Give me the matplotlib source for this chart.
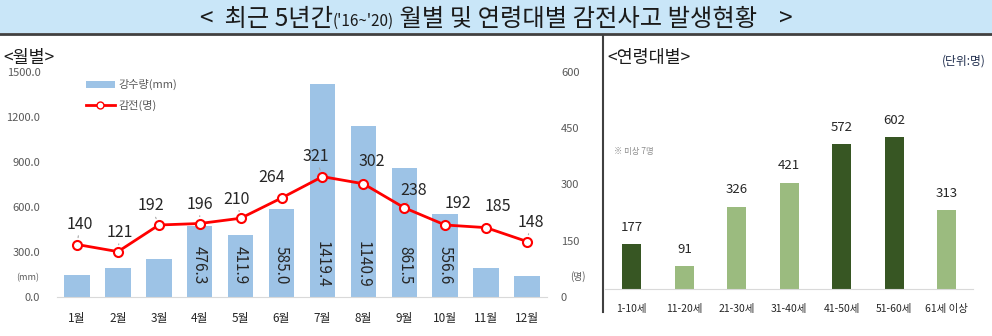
import matplotlib
matplotlib.use("Agg")
import matplotlib.pyplot as plt
from matplotlib.patches import Patch, Rectangle
from matplotlib.lines import Line2D

plt.rcParams['font.family'] = ['Noto Sans CJK KR', 'DejaVu Sans']

# data
months = ["1월", "2월", "3월", "4월", "5월", "6월", "7월", "8월", "9월", "10월", "11월", "12월"]
rain = [147, 194, 254, 476.3, 411.9, 585.0, 1419.4, 1140.9, 861.5, 556.6, 194, 141]
rain_labeled = [False, False, False, True, True, True, True, True, True, True, False, False]
shock = [140, 121, 192, 196, 210, 264, 321, 302, 238, 192, 185, 148]
# label offsets (px) for line labels
lbl_off = [(3, 20), (2, 19), (-8, 19), (0, 19), (-4, 19), (-10, 20), (-7, 20), (8, 22), (9, 17), (13, 22), (12, 21), (4, 19)]

ages = ["1-10세", "11-20세", "21-30세", "31-40세", "41-50세", "51-60세", "61세 이상"]
age_vals = [177, 91, 326, 421, 572, 602, 313]
age_dark = [True, False, False, False, True, True, False]

blue = "#9dc3e6"
red = "#ff0000"
dgreen = "#375623"
lgreen = "#9bbb7f"
txt = "#262626"
gray = "#595959"

W, H = 992, 336
fig = plt.figure(figsize=(W / 100, H / 100), dpi=100)

def fx(px):
    return px / W

def fy(py):
    return 1 - py / H

# title band
fig.patches.append(Rectangle((0, fy(33)), 1, 33 / H, transform=fig.transFigure,
                             facecolor="#c9e6f8", edgecolor="none", zorder=0))
fig.add_artist(Line2D([0, 1], [fy(34), fy(34)], color="#404040", lw=2))
fig.add_artist(Line2D([fx(603), fx(603)], [fy(35), fy(312)], color="#404040", lw=1.5))

# title made from three pieces, different sizes
fig.canvas.draw()
r = fig.canvas.get_renderer()
pieces = [("<  최근 5년간", 17.5), ("('16~'20)", 11), (" 월별 및 연령대별 감전사고 발생현황    >", 17.5)]
objs = []
total = 0
for s, size in pieces:
    t = fig.text(0, fy(17), s, fontsize=size, color="#1a1a1a", va="baseline")
    objs.append(t)
    total += t.get_window_extent(r).width
x = (W - total) / 2
for t in objs:
    t.set_position((fx(x), fy(26)))
    x += t.get_window_extent(r).width

# left chart
ax = fig.add_axes([fx(57), fy(297), fx(547 - 57), (297 - 72) / H])
xs = range(len(months))
ax.bar(xs, rain, width=0.62, color=blue, zorder=2)
ax.set_xlim(-0.49, len(months) - 0.51)
ax.set_ylim(0, 1500)
ax.set_yticks([0, 300, 600, 900, 1200, 1500])
ax.set_yticklabels([f"{v:.1f}" for v in [0, 300, 600, 900, 1200, 1500]])
ax.set_xticks(list(xs))
ax.set_xticklabels(months)
ax.tick_params(axis="y", length=0, labelsize=8, labelcolor=gray, pad=12)
ax.tick_params(axis="x", length=0, labelsize=8.5, labelcolor=txt, pad=11)
for sp in ["top", "right", "left"]:
    ax.spines[sp].set_visible(False)
ax.spines["bottom"].set_color("#d9d9d9")
for i, v in enumerate(rain):
    if rain_labeled[i]:
        ax.text(i, 215, f"{v:.1f}", rotation=270, ha="center", va="center",
                fontsize=11, color=txt, zorder=4)

ax2 = ax.twinx()
ax2.plot(xs, shock, color=red, lw=2, marker="o", ms=6.5, mfc="white", mec=red, mew=1.5, zorder=5)
ax2.set_ylim(0, 600)
ax2.set_yticks([0, 150, 300, 450, 600])
ax2.tick_params(axis="y", length=0, labelsize=8, labelcolor=gray, pad=10)
for sp in ["top", "right", "left", "bottom"]:
    ax2.spines[sp].set_visible(False)
for i, v in enumerate(shock):
    dx, dy = lbl_off[i]
    ax2.annotate(str(v), (i, v), xytext=(dx * 0.72, dy * 0.72), textcoords="offset points",
                 ha="center", va="center", fontsize=11.5, color=txt,
                 arrowprops=dict(arrowstyle="-", color="#a6a6a6", lw=0.8, shrinkA=7, shrinkB=5))

fig.text(fx(28), fy(278), "(mm)", fontsize=6.5, color=gray, ha="center", va="center")
fig.text(fx(578), fy(277), "(명)", fontsize=7, color=gray, ha="center", va="center")
fig.text(fx(3), fy(58), "<월별>", fontsize=12.5, color="#1a1a1a", ha="left", va="center")

handles = [Patch(facecolor=blue, edgecolor="none"),
           Line2D([0], [0], color=red, lw=2, marker="o", ms=5, mfc="white", mec=red)]
fig.legend(handles, ["강수량(mm)", "감전(명)"], loc="upper left",
           bbox_to_anchor=(fx(76), fy(69)), frameon=False, fontsize=8,
           labelcolor=gray, handlelength=2.6, handleheight=0.6, labelspacing=0.9,
           handletextpad=0.3)

# right chart
bx = fig.add_axes([fx(605), fy(289), fx(973 - 605), 189 / H])
cols = [dgreen if d else lgreen for d in age_dark]
bx.bar(range(len(ages)), age_vals, width=0.37, color=cols, zorder=2)
bx.set_xlim(-0.51, 6.5)
bx.set_ylim(0, 748)
bx.set_yticks([])
bx.set_xticks(range(len(ages)))
bx.set_xticklabels(ages)
bx.tick_params(axis="x", length=0, labelsize=7.5, labelcolor=txt, pad=11)
for sp in ["top", "right", "left"]:
    bx.spines[sp].set_visible(False)
bx.spines["bottom"].set_color("#d9d9d9")
for i, v in enumerate(age_vals):
    bx.annotate(str(v), (i, v), xytext=(0, 12), textcoords="offset points",
                ha="center", va="center", fontsize=9.5, color=txt)

fig.text(fx(607), fy(58), "<연령대별>", fontsize=12.5, color="#1a1a1a", ha="left", va="center")
fig.text(fx(986), fy(61), "(단위:명)", fontsize=8.5, color="#1f2d4d", ha="right", va="center")
fig.text(fx(614), fy(152), "※ 미상 7명", fontsize=6, color="#8c8c8c", ha="left", va="center")

fig.savefig("out.png", dpi=100)
